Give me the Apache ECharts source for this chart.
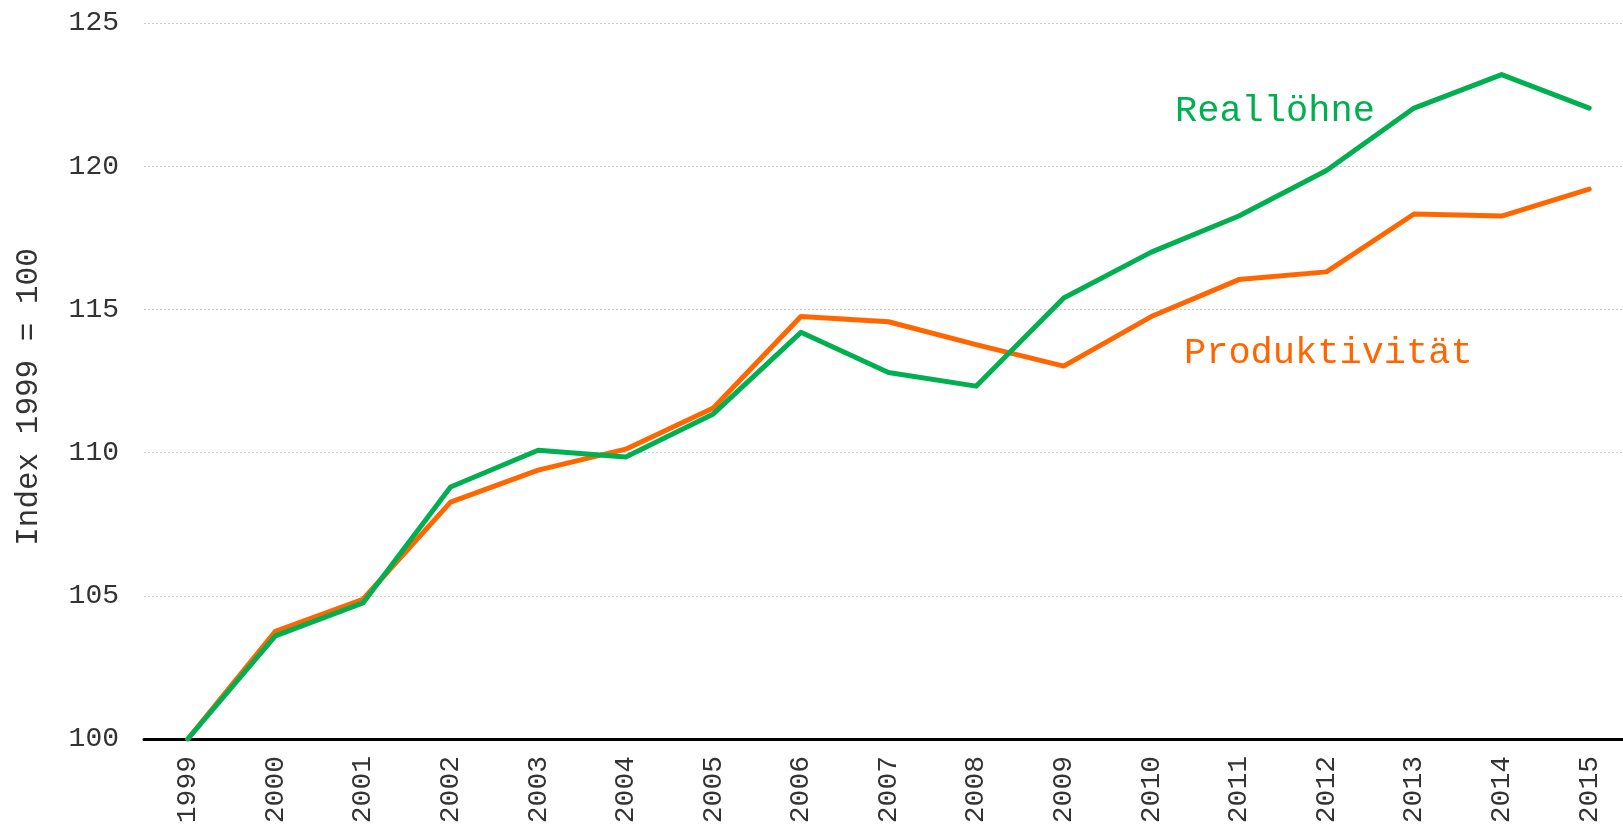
<!DOCTYPE html>
<html>
<head>
<meta charset="utf-8">
<script src="https://cdn.jsdelivr.net/npm/echarts@6/dist/echarts.min.js"></script>
<style>
html,body{margin:0;padding:0;background:#fff;}
#chart{width:1623px;height:830px;}
</style>
</head>
<body>
<div id="chart"></div>
<script>
const years = ['1999','2000','2001','2002','2003','2004','2005','2006','2007','2008','2009','2010','2011','2012','2013','2014','2015'];
const realloehne = [100, 103.6, 104.75, 108.8, 110.08, 109.85, 111.35, 114.2, 112.8, 112.32, 115.4, 117.0, 118.26, 119.85, 122.03, 123.2, 122.03];
const produktivitaet = [100, 103.76, 104.88, 108.27, 109.39, 110.12, 111.56, 114.75, 114.57, 113.77, 113.02, 114.75, 116.04, 116.31, 118.33, 118.26, 119.2];
const yTicks = {min: 100, max: 125, interval: 5};
const FONT = "'Courier New', 'Liberation Mono', monospace";
const GREEN = '#00b050';
const ORANGE = '#ff6600';

const chart = echarts.init(document.getElementById('chart'), null, {renderer: 'canvas'});
chart.setOption({
  animation: false,
  backgroundColor: '#fff',
  grid: {left: 144, right: -10, top: 23, bottom: 91, containLabel: false, outerBoundsMode: 'none'},
  xAxis: {
    type: 'category',
    data: years,
    boundaryGap: true,
    axisLine: {show: true, onZero: false, lineStyle: {color: '#000', width: 3}},
    axisTick: {show: false},
    axisLabel: {rotate: 90, margin: 17, fontFamily: FONT, fontSize: 28, color: '#333'},
    splitLine: {show: false}
  },
  yAxis: {
    type: 'value',
    min: yTicks.min, max: yTicks.max, interval: yTicks.interval,
    name: 'Index 1999 = 100',
    nameLocation: 'middle',
    nameGap: 100,
    nameTextStyle: {fontFamily: FONT, fontSize: 31, color: '#333', padding: [0, 32, 0, 0]},
    axisLine: {show: false},
    axisTick: {show: false},
    axisLabel: {margin: 25, fontFamily: FONT, fontSize: 28, color: '#333'},
    splitLine: {show: true, lineStyle: {color: '#cccccc', type: [2, 2], width: 1}}
  },
  series: [
    {
      name: 'Produktivität', type: 'line', data: produktivitaet,
      symbol: 'none', z: 2,
      lineStyle: {color: ORANGE, width: 5, cap: 'round', join: 'round'}
    },
    {
      name: 'Reallöhne', type: 'line', data: realloehne,
      symbol: 'none', z: 3,
      lineStyle: {color: GREEN, width: 5, cap: 'round', join: 'round'}
    }
  ],
  graphic: [
    {type: 'text', x: 1175, y: 111, z: 10,
     style: {text: 'Reallöhne', fill: GREEN, font: "37px " + FONT, verticalAlign: 'middle', align: 'left'}},
    {type: 'text', x: 1184, y: 353, z: 10,
     style: {text: 'Produktivität', fill: ORANGE, font: "37px " + FONT, verticalAlign: 'middle', align: 'left'}}
  ]
});
</script>
</body>
</html>
